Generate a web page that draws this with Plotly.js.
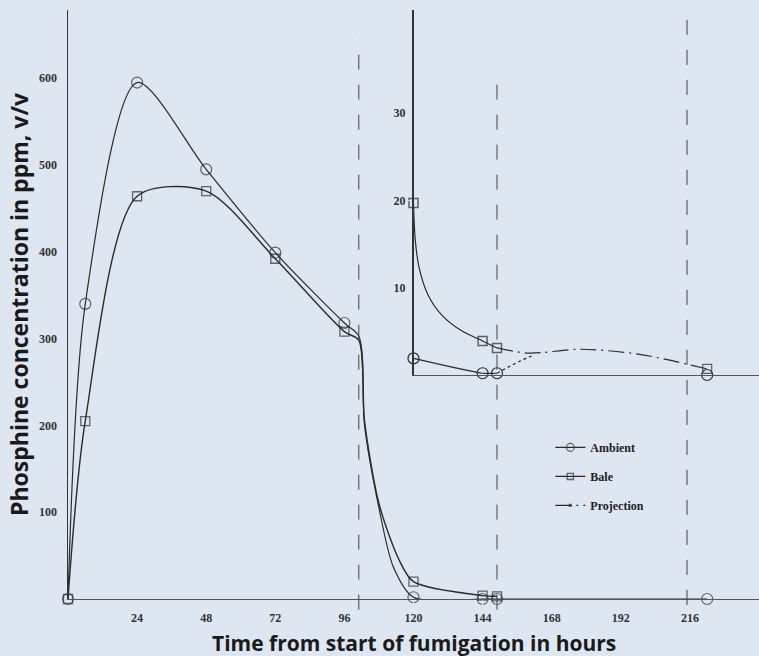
<!DOCTYPE html>
<html>
<head>
<meta charset="utf-8">
<script src="https://cdn.plot.ly/plotly-3.0.1.min.js"></script>
<style>
  html, body { margin: 0; padding: 0; background: #dde6f1; }
  #chart { width: 759px; height: 656px; }
</style>
</head>
<body>
<div id="chart"></div>
<script>
// ---- Main chart data (hours, ppm) ----
var ambientHours = [0, 6, 24, 48, 72, 96, 101, 103, 108, 113, 120, 144, 149, 222];
var ambientPpm   = [0, 340, 595, 495, 399, 318, 303, 200, 105, 37, 2, 0, 0, 0];
var ambientIsSample = [1, 1, 1, 1, 1, 1, 0, 0, 0, 0, 1, 1, 1, 1];

var baleHours = [0, 6, 24, 48, 72, 96, 101, 103, 108, 115, 120, 144, 149];
var balePpm   = [0, 205, 464, 470, 392, 308, 298, 205, 110, 45, 20, 3.9, 3.1];
var baleIsSample = [1, 1, 1, 1, 1, 1, 0, 0, 0, 0, 1, 1, 1];

// ---- Inset data (hours, ppm) ----
var insetAmbientHours = [120, 144, 149];
var insetAmbientPpm   = [1.9, 0.2, 0.2];
var insetAmbientEndHours = [222];
var insetAmbientEndPpm   = [0];

var insetBaleHours = [120, 120.6, 122, 125, 130, 137, 144, 149];
var insetBalePpm   = [19.7, 15.5, 12.2, 9.2, 6.8, 5.0, 3.9, 3.1];
var insetBaleIsSample = [1, 0, 0, 0, 0, 0, 1, 1];

var projBaleHours = [149, 160, 178, 198, 222];
var projBalePpm   = [3.1, 2.5, 2.95, 2.4, 0.7];
var projBaleIsSample = [0, 0, 0, 0, 1];

var projAmbientHours = [149, 157, 162];
var projAmbientPpm   = [0.2, 1.6, 2.3];

// ---- Ticks and reference lines ----
var xTicks = [24, 48, 72, 96, 120, 144, 168, 192, 216];
var yTicks = [100, 200, 300, 400, 500, 600];
var insetYTicks = [10, 20, 30];
var eventHours = [101, 149, 215];

var BG = '#dde6f1';
var INK = '#2b2b2b';
var tickFont = { family: 'Liberation Serif, serif', size: 12, color: '#333', weight: 'bold' };
var titleFont = { family: 'Open Sans, sans-serif', size: 21, color: '#1a1a1a', weight: 'bold' };

function sizes(flags, s) { return flags.map(function (f) { return f ? s : 0; }); }

var traces = [
  { x: ambientHours, y: ambientPpm, xaxis: 'x', yaxis: 'y', name: 'Ambient', legendgroup: 'a',
    mode: 'lines+markers', cliponaxis: false,
    line: { color: INK, width: 1.2, shape: 'spline', smoothing: 0.8 },
    marker: { symbol: 'circle-open', size: sizes(ambientIsSample, 11), color: INK, line: { width: 1.2, color: INK } } },
  { x: baleHours, y: balePpm, xaxis: 'x', yaxis: 'y', name: 'Bale', legendgroup: 'b',
    mode: 'lines+markers', cliponaxis: false,
    line: { color: INK, width: 1.4, shape: 'spline', smoothing: 0.8 },
    marker: { symbol: 'square-open', size: sizes(baleIsSample, 9), color: INK, line: { width: 1.3, color: INK } } },
  { x: insetAmbientHours, y: insetAmbientPpm, xaxis: 'x2', yaxis: 'y2', showlegend: false,
    mode: 'lines+markers', cliponaxis: false,
    line: { color: INK, width: 1.2, shape: 'spline', smoothing: 0.6 },
    marker: { symbol: 'circle-open', size: 11, color: INK, line: { width: 1.2, color: INK } } },
  { x: insetAmbientEndHours, y: insetAmbientEndPpm, xaxis: 'x2', yaxis: 'y2', showlegend: false,
    mode: 'markers', cliponaxis: false,
    marker: { symbol: 'circle-open', size: 11, color: INK, line: { width: 1.2, color: INK } } },
  { x: insetBaleHours, y: insetBalePpm, xaxis: 'x2', yaxis: 'y2', showlegend: false,
    mode: 'lines+markers', cliponaxis: false,
    line: { color: INK, width: 1.2, shape: 'spline', smoothing: 0.8 },
    marker: { symbol: 'square-open', size: sizes(insetBaleIsSample, 9), color: INK, line: { width: 1.5, color: INK } } },
  { x: projBaleHours, y: projBalePpm, xaxis: 'x2', yaxis: 'y2', name: 'Projection', legendgroup: 'p',
    mode: 'lines+markers', cliponaxis: false,
    line: { color: INK, width: 1.2, shape: 'spline', smoothing: 0.8, dash: '16px,5px,2px,5px' },
    marker: { symbol: 'square-open', size: sizes(projBaleIsSample, 9), color: INK, line: { width: 1.2, color: INK } } },
  { x: projAmbientHours, y: projAmbientPpm, xaxis: 'x2', yaxis: 'y2', showlegend: false,
    mode: 'lines', cliponaxis: false,
    line: { color: INK, width: 1.3, shape: 'spline', dash: 'dot' } }
];

var shapes = [
  { type: 'line', xref: 'x', yref: 'paper', x0: eventHours[0], x1: eventHours[0], y0: -0.018, y1: 0.95,
    line: { color: '#444', width: 1, dash: 'longdash' } },
  { type: 'line', xref: 'x', yref: 'paper', x0: eventHours[1], x1: eventHours[1], y0: -0.018, y1: 0.89,
    line: { color: '#444', width: 1, dash: 'longdash' } },
  { type: 'line', xref: 'x', yref: 'paper', x0: eventHours[2], x1: eventHours[2], y0: -0.01, y1: 1.0,
    line: { color: '#444', width: 1, dash: 'longdash' } }
];

var layout = {
  width: 759, height: 656,
  margin: { l: 68, r: 0, t: 10, b: 57 },
  paper_bgcolor: BG, plot_bgcolor: BG,
  showlegend: true,
  legend: {
    x: 0.698, y: 0.282, xanchor: 'left', yanchor: 'top',
    bgcolor: 'rgba(0,0,0,0)', traceorder: 'grouped', tracegroupgap: 10,
    font: { family: 'Liberation Serif, serif', size: 12, color: '#222', weight: 'bold' }
  },
  xaxis: {
    domain: [0, 1], range: [0, 240], anchor: 'y',
    showline: true, linecolor: '#555', linewidth: 1, showgrid: false, zeroline: false,
    tickmode: 'array', tickvals: xTicks, ticks: 'outside', ticklen: 8, tickcolor: BG,
    tickfont: tickFont
  },
  yaxis: {
    domain: [0, 1], range: [0, 678.6], anchor: 'x',
    showline: true, linecolor: '#333', linewidth: 1.5, showgrid: false, zeroline: false,
    tickmode: 'array', tickvals: yTicks, ticks: 'outside', ticklen: 7, tickcolor: BG,
    tickfont: tickFont,
    title: { text: 'Phosphine concentration in ppm, v/v', standoff: 4,
             font: { family: 'Open Sans, sans-serif', size: 23, color: '#1a1a1a', weight: 'bold' } }
  },
  xaxis2: {
    domain: [0.5, 1], range: [120, 240], anchor: 'y2',
    showline: true, linecolor: '#555', linewidth: 1, showgrid: false, zeroline: false,
    showticklabels: false, ticks: ''
  },
  yaxis2: {
    domain: [0.3803, 1], range: [0, 41.8], anchor: 'x2',
    showline: true, linecolor: '#333', linewidth: 1.5, showgrid: false, zeroline: false,
    tickmode: 'array', tickvals: insetYTicks, ticks: 'outside', ticklen: 4, tickcolor: BG,
    tickfont: tickFont
  },
  annotations: [
    { text: 'Time from start of fumigation in hours', xref: 'paper', yref: 'paper',
      x: 0.5, y: -0.1019, xanchor: 'center', yanchor: 'bottom', showarrow: false,
      font: titleFont }
  ],
  shapes: shapes
};

Plotly.newPlot('chart', traces, layout, { displayModeBar: false, staticPlot: true });
</script>
</body>
</html>
